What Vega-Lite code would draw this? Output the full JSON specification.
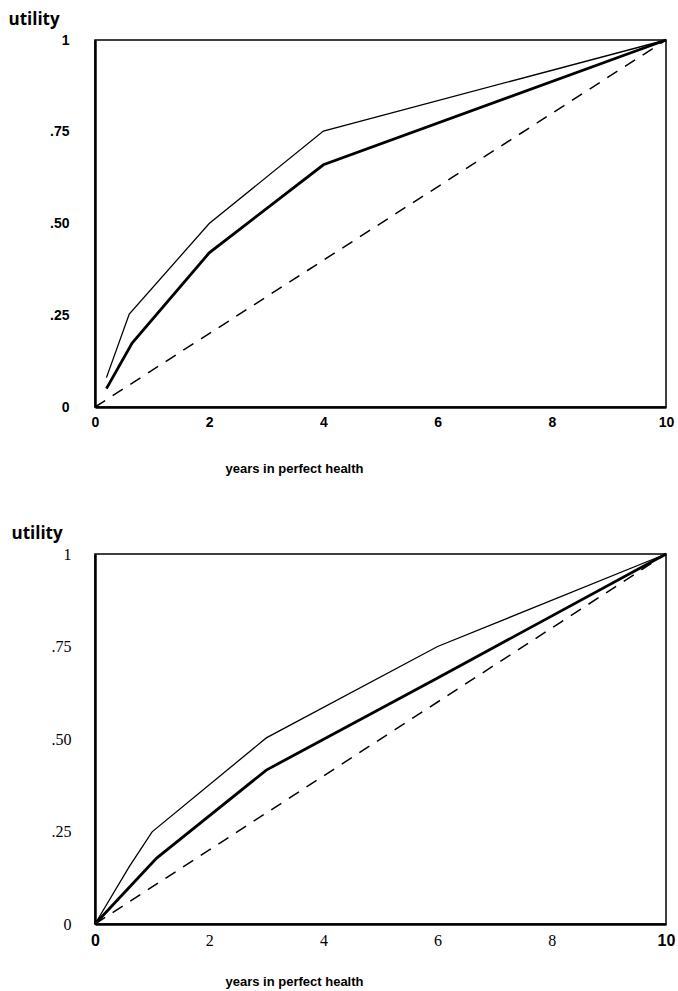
{
  "$schema": "https://vega.github.io/schema/vega-lite/v6.json",
  "background": "white",
  "padding": {"left": 7, "top": 9, "right": 0, "bottom": 0},
  "spacing": 47,
  "config": {
    "view": {"stroke": "black", "strokeWidth": 1.5},
    "axis": {"grid": false, "ticks": false, "domainColor": "black", "labelColor": "black", "titleColor": "black"}
  },
  "datasets": {
    "curves": [
      {"panel": "top", "series": "upper", "x": 0.2, "y": 0.08},
      {"panel": "top", "series": "upper", "x": 0.6, "y": 0.253},
      {"panel": "top", "series": "upper", "x": 2, "y": 0.5},
      {"panel": "top", "series": "upper", "x": 4, "y": 0.752},
      {"panel": "top", "series": "upper", "x": 10, "y": 1},
      {"panel": "top", "series": "middle", "x": 0.2, "y": 0.05},
      {"panel": "top", "series": "middle", "x": 0.65, "y": 0.174},
      {"panel": "top", "series": "middle", "x": 2, "y": 0.42},
      {"panel": "top", "series": "middle", "x": 4, "y": 0.66},
      {"panel": "top", "series": "middle", "x": 10, "y": 1},
      {"panel": "top", "series": "diagonal", "x": 0, "y": 0},
      {"panel": "top", "series": "diagonal", "x": 10, "y": 1},
      {"panel": "bottom", "series": "upper", "x": 0, "y": 0},
      {"panel": "bottom", "series": "upper", "x": 0.6, "y": 0.155},
      {"panel": "bottom", "series": "upper", "x": 1, "y": 0.249},
      {"panel": "bottom", "series": "upper", "x": 3, "y": 0.503},
      {"panel": "bottom", "series": "upper", "x": 6, "y": 0.75},
      {"panel": "bottom", "series": "upper", "x": 10, "y": 1},
      {"panel": "bottom", "series": "middle", "x": 0, "y": 0},
      {"panel": "bottom", "series": "middle", "x": 1.08, "y": 0.178},
      {"panel": "bottom", "series": "middle", "x": 3, "y": 0.416},
      {"panel": "bottom", "series": "middle", "x": 6, "y": 0.665},
      {"panel": "bottom", "series": "middle", "x": 10, "y": 1},
      {"panel": "bottom", "series": "diagonal", "x": 0, "y": 0},
      {"panel": "bottom", "series": "diagonal", "x": 10, "y": 1}
    ]
  },
  "vconcat": [
    {
      "width": 571,
      "height": 367,
      "data": {"name": "curves"},
      "transform": [{"filter": "datum.panel == 'top'"}],
      "encoding": {
        "x": {"field": "x", "type": "quantitative",
          "scale": {"domain": [0, 10], "nice": false, "zero": false},
          "axis": {"values": [0, 2, 4, 6, 8, 10], "title": "years in perfect health",
            "labelFont": "Liberation Sans", "labelFontSize": 14, "labelFontWeight": "bold", "labelPadding": 8,
            "labelFlush": false, "domainWidth": 2.5,
            "titleFont": "Liberation Sans", "titleFontSize": 13, "titleFontWeight": "bold",
            "titleX": 199, "titleY": 65, "titleAlign": "center", "titleBaseline": "alphabetic"}},
        "y": {"field": "y", "type": "quantitative",
          "scale": {"domain": [0, 1], "nice": false},
          "axis": {"values": [0, 0.25, 0.5, 0.75, 1], "title": "utility",
            "labelExpr": "datum.value == 0 ? '0' : datum.value == 1 ? '1' : replace(format(datum.value, '.2f'), '0.', '.')",
            "labelFont": "Liberation Sans", "labelFontSize": 14, "labelFontWeight": "bold", "labelPadding": 26,
            "labelFlush": false, "domainWidth": 2.5,
            "titleFont": "Open Sans", "titleFontSize": 17, "titleFontWeight": "bold",
            "titleAngle": 0, "titleAlign": "left", "titleBaseline": "alphabetic", "titleX": -87, "titleY": -16}}
      },
      "layer": [
        {"transform": [{"filter": "datum.series == 'upper'"}],
          "mark": {"type": "line", "color": "black", "strokeWidth": 1.3}},
        {"transform": [{"filter": "datum.series == 'middle'"}],
          "mark": {"type": "line", "color": "black", "strokeWidth": 2.8}},
        {"transform": [{"filter": "datum.series == 'diagonal'"}],
          "mark": {"type": "line", "color": "black", "strokeWidth": 1.5, "strokeDash": [12, 9]}}
      ]
    },
    {
      "width": 571,
      "height": 370,
      "data": {"name": "curves"},
      "transform": [{"filter": "datum.panel == 'bottom'"}],
      "encoding": {
        "x": {"field": "x", "type": "quantitative",
          "scale": {"domain": [0, 10], "nice": false, "zero": false},
          "axis": {"values": [0, 2, 4, 6, 8, 10], "title": "years in perfect health",
            "labelFont": {"condition": {"test": "datum.value == 0 || datum.value == 10", "value": "Liberation Sans"}, "value": "Liberation Serif"},
            "labelFontWeight": {"condition": {"test": "datum.value == 0 || datum.value == 10", "value": "bold"}, "value": "normal"},
            "labelFontSize": 16, "labelPadding": 8,
            "labelFlush": false, "domainWidth": 2.5,
            "titleFont": "Liberation Sans", "titleFontSize": 13, "titleFontWeight": "bold",
            "titleX": 199, "titleY": 61, "titleAlign": "center", "titleBaseline": "alphabetic"}},
        "y": {"field": "y", "type": "quantitative",
          "scale": {"domain": [0, 1], "nice": false},
          "axis": {"values": [0, 0.25, 0.5, 0.75, 1], "title": "utility",
            "labelExpr": "datum.value == 0 ? '0' : datum.value == 1 ? '1' : replace(format(datum.value, '.2f'), '0.', '.')",
            "labelFont": "Liberation Serif", "labelFontSize": 16, "labelPadding": 24,
            "labelFlush": false, "domainWidth": 2.5,
            "titleFont": "Open Sans", "titleFontSize": 17, "titleFontWeight": "bold",
            "titleAngle": 0, "titleAlign": "left", "titleBaseline": "alphabetic", "titleX": -84, "titleY": -16}}
      },
      "layer": [
        {"transform": [{"filter": "datum.series == 'upper'"}],
          "mark": {"type": "line", "color": "black", "strokeWidth": 1.3}},
        {"transform": [{"filter": "datum.series == 'middle'"}],
          "mark": {"type": "line", "color": "black", "strokeWidth": 2.8}},
        {"transform": [{"filter": "datum.series == 'diagonal'"}],
          "mark": {"type": "line", "color": "black", "strokeWidth": 1.5, "strokeDash": [12, 9]}}
      ]
    }
  ]
}
